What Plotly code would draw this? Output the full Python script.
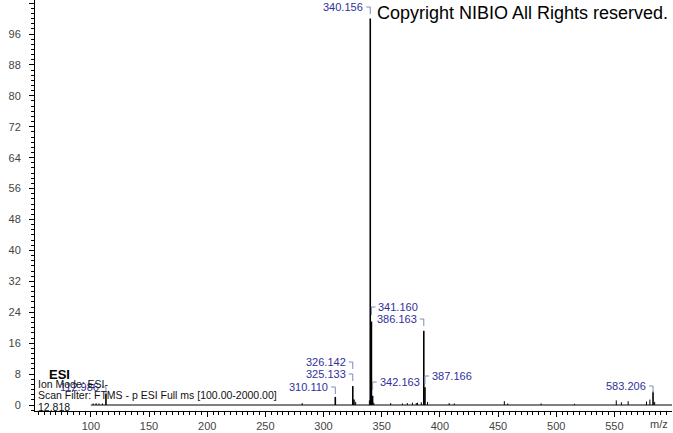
"""Mass spectrum (ESI-, FTMS) recreated with plotly"""
import plotly.graph_objects as go

# ---- data -------------------------------------------------------------
# labelled peaks (m/z, relative intensity %)
peak_mz = [112.986, 310.110, 325.133, 326.142, 340.156, 341.160, 342.163,
           386.163, 387.166, 583.206]
peak_int = [3.0, 2.1, 4.9, 1.4, 100.0, 21.6, 2.4, 19.2, 4.6, 3.4]
peak_labels = ['112.986', '310.110', '325.133', '326.142', '340.156',
               '341.160', '342.163', '386.163', '387.166', '583.206']

# small unlabelled peaks
minor_mz = [102.0, 104.5, 107.0, 110.0, 281.6, 327.6, 339.4, 343.2, 357.7,
            367.8, 372.0, 376.4, 379.7, 380.7, 384.0, 389.4, 408.0, 412.4,
            455.4, 458.3, 487.0, 515.7, 551.6, 556.0, 561.8, 577.6, 580.5,
            584.6]
minor_int = [0.4, 0.5, 0.4, 0.4, 0.5, 0.8, 1.2, 0.6, 0.5, 0.4, 0.5, 0.6,
             0.5, 0.6, 0.7, 0.8, 0.5, 0.4, 1.0, 0.4, 0.4, 0.3, 1.2, 0.7,
             1.0, 0.9, 1.4, 0.8]

scan_range = [100.0, 2000.0]

info_lines = ['Ion Mode: ESI-',
              'Scan Filter: FTMS - p ESI Full ms [100.00-2000.00]',
              '12.818']

# ---- layout helpers ----------------------------------------------------
W, H = 673, 433
M = dict(l=35, r=1, t=0, b=22)
X_RANGE = [52, 599.5]
Y_RANGE = [-1.55, 104.8]
PW = W - M['l'] - M['r']
PH = H - M['t'] - M['b']
UX = (X_RANGE[1] - X_RANGE[0]) / PW   # m/z per pixel
UY = (Y_RANGE[1] - Y_RANGE[0]) / PH   # % per pixel


def y_at(py):
    """screen pixel row -> intensity value"""
    return Y_RANGE[1] - (py - M['t']) * UY


# label side and screen row of each label (layout only)
label_pos = {
    '112.986': ('l', 387), '310.110': ('l', 387), '325.133': ('l', 374),
    '326.142': ('l', 362), '340.156': ('l', 7), '341.160': ('r', 307),
    '342.163': ('r', 382), '386.163': ('l', 319), '387.166': ('r', 376),
    '583.206': ('l', 386),
}
# the 326.142 label points at the 325 stick in the reference
label_anchor = {'326.142': 325.133}

LABEL_BLUE = '#30309c'
LINK = '#8487b4'
FONT = 'Arial, Liberation Sans, sans-serif'


def sticks(xs, ys):
    px, py = [], []
    for x, y in zip(xs, ys):
        px += [x, x, None]
        py += [0, y, None]
    return px, py


fig = go.Figure()

# baseline over the scan range
fig.add_trace(go.Scatter(x=scan_range, y=[0, 0], mode='lines',
                         line=dict(color='black', width=1),
                         hoverinfo='skip', showlegend=False))

sx, sy = sticks(minor_mz, minor_int)
fig.add_trace(go.Scatter(x=sx, y=sy, mode='lines',
                         line=dict(color='black', width=1),
                         hoverinfo='skip', showlegend=False))

sx, sy = sticks(peak_mz, peak_int)
fig.add_trace(go.Scatter(x=sx, y=sy, mode='lines',
                         line=dict(color='black', width=1.6),
                         hoverinfo='skip', showlegend=False))

# peak labels with elbow connectors
for mz, lab in zip(peak_mz, peak_labels):
    side, row = label_pos[lab]
    xa = label_anchor.get(lab, mz)
    ly = y_at(row)
    if side == 'l':
        fig.add_annotation(x=xa - 5 * UX, y=ly, text=lab, showarrow=False,
                           xanchor='right', yanchor='middle',
                           font=dict(family=FONT, size=11, color=LABEL_BLUE))
        fig.add_shape(type='path', line=dict(color=LINK, width=1),
                      path=f'M {xa - 4 * UX} {ly} L {xa} {ly} L {xa} {ly - 7 * UY}')
    else:
        fig.add_annotation(x=xa + 5 * UX, y=ly, text=lab, showarrow=False,
                           xanchor='left', yanchor='middle',
                           font=dict(family=FONT, size=11, color=LABEL_BLUE))
        fig.add_shape(type='path', line=dict(color=LINK, width=1),
                      path=f'M {xa + 4 * UX} {ly} L {xa} {ly} L {xa} {ly - 8 * UY}')

# header text at lower left
fig.add_annotation(xref='paper', x=0, xshift=12, y=y_at(374), text='<b>ESI</b>',
                   showarrow=False, xanchor='left', yanchor='middle',
                   font=dict(family=FONT, size=13, color='black'))
for line, row in zip(info_lines, [384, 395, 407]):
    fig.add_annotation(xref='paper', x=0, xshift=1, y=y_at(row), text=line,
                       showarrow=False, xanchor='left', yanchor='middle',
                       font=dict(family=FONT, size=10.5, color='#111111'))

fig.add_annotation(xref='paper', yref='paper', x=(375 - M['l']) / PW,
                   y=1 - 13 / PH, text='Copyright NIBIO All Rights reserved.',
                   showarrow=False, xanchor='left', yanchor='middle',
                   font=dict(family=FONT, size=18, color='black'))

fig.add_annotation(xref='paper', yref='paper', x=1, xshift=-2, y=0, yshift=-13,
                   text='m/z', showarrow=False, xanchor='right', yanchor='middle',
                   font=dict(family=FONT, size=11, color='#444444'))

fig.update_xaxes(range=X_RANGE, showline=True, linecolor='black', linewidth=1,
                 showgrid=False, zeroline=False, ticks='outside', ticklen=5,
                 tickcolor='black', tick0=0, dtick=50,
                 minor=dict(ticks='outside', ticklen=3, dtick=5, tick0=0,
                            tickcolor='black'),
                 tickfont=dict(family=FONT, size=11, color='#444444'))
fig.update_yaxes(range=Y_RANGE, showline=True, linecolor='black', linewidth=1,
                 showgrid=False, zeroline=False, ticks='outside', ticklen=5,
                 tickcolor='black', tick0=0, dtick=8, ticklabelstandoff=6,
                 minor=dict(ticks='outside', ticklen=3, dtick=4 / 3, tick0=0,
                            tickcolor='black'),
                 tickfont=dict(family=FONT, size=11, color='#444444'))

fig.update_layout(width=W, height=H, margin=M, plot_bgcolor='white',
                  paper_bgcolor='white', showlegend=False)

# page body has a default 8px margin; drop it so the figure fills the window
fig.write_html("out.html", config={'displayModeBar': False},
               post_script="document.body.style.margin='0';")
